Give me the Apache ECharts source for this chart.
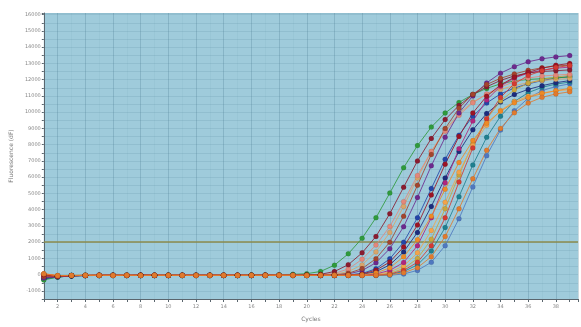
<!DOCTYPE html>
<html>
<head>
<meta charset="utf-8">
<script src="https://cdn.jsdelivr.net/npm/echarts@6/dist/echarts.min.js"></script>
<style>html,body{margin:0;padding:0;background:#fff;}#c{width:581px;height:327px;}</style>
</head>
<body>
<div id="c"></div>
<script>
const cycles = [1,2,3,4,5,6,7,8,9,10,11,12,13,14,15,16,17,18,19,20,21,22,23,24,25,26,27,28,29,30,31,32,33,34,35,36,37,38,39];
const yTickLabels = [-1000,0,1000,2000,3000,4000,5000,6000,7000,8000,9000,10000,11000,12000,13000,14000,15000,16000];
const xTickLabels = [2,4,6,8,10,12,14,16,18,20,22,24,26,28,30,32,34,36,38];
const threshold = 2000;

const wellGreen = [-330,-150,-70,-50,-40,-50,-40,-40,-50,-40,-40,-40,-50,-40,-40,-30,-20,0,16,58,194,580,1280,2240,3500,5020,6580,7940,9080,9940,10600,11080,11460,11740,11920,12010,12060,12110,12160];
const wellMaroon = [-20,-90,-60,-50,-50,-40,-50,-40,-40,-50,-40,-50,-40,-40,-50,-40,-40,-40,-40,-20,20,190,610,1340,2350,3750,5380,6990,8380,9540,10410,11080,11560,11950,12230,12410,12500,12550,12600];
const wellSalmon = [40,-80,-60,-50,-40,-50,-40,-50,-40,-40,-50,-40,-40,-50,-40,-40,-50,-40,-40,-40,-10,70,350,940,1820,2960,4490,6100,7570,8830,9810,10570,11120,11550,11870,12100,12220,12280,12330];
const wellTan = [-60,-100,-60,-40,-50,-40,-40,-50,-40,-50,-40,-40,-50,-40,-40,-50,-40,-40,-50,-40,-30,20,190,600,1400,2600,4200,5950,7580,8910,9920,10620,11090,11400,11630,11810,11940,12020,12070];
const wellBrown = [-120,-110,-70,-50,-40,-50,-50,-40,-40,-50,-50,-40,-40,-50,-40,-50,-40,-40,-40,-50,-40,-10,80,370,980,2000,3600,5500,7400,8990,10240,11100,11700,12080,12350,12570,12730,12840,12890];
const wellPurple = [-200,-130,-70,-60,-50,-40,-50,-50,-40,-40,-50,-40,-50,-40,-40,-40,-50,-40,-40,-50,-50,-20,40,250,730,1600,2950,4750,6700,8450,9950,11000,11800,12400,12800,13100,13280,13400,13480];
const wellBlue = [-150,-120,-60,-50,-50,-40,-40,-50,-40,-40,-40,-50,-40,-40,-50,-40,-40,-50,-40,-40,-50,-40,-20,70,360,970,2000,3500,5300,7100,8580,9750,10560,11120,11480,11740,11940,12090,12190];
const wellDarkRed = [0,-70,-60,-50,-40,-40,-50,-40,-50,-40,-40,-50,-40,-50,-40,-40,-40,-50,-40,-40,-40,-50,-20,40,270,780,1700,3050,4900,6800,8500,9950,10980,11670,12150,12450,12700,12880,13000];
const wellNavy = [-250,-140,-80,-50,-50,-40,-40,-40,-50,-40,-50,-40,-40,-40,-50,-40,-50,-40,-40,-40,-50,-40,-40,10,180,600,1400,2600,4200,5950,7580,8910,9920,10620,11090,11400,11630,11810,11940];
const wellOrange = [60,-60,-50,-40,-50,-40,-40,-50,-40,-40,-50,-40,-50,-40,-40,-40,-50,-40,-40,-50,-40,-40,-40,-10,100,420,1100,2150,3600,5250,6900,8250,9320,10060,10570,10900,11140,11320,11460];
const wellMagenta = [-180,-120,-70,-50,-40,-50,-40,-40,-40,-50,-40,-40,-50,-40,-40,-50,-40,-40,-40,-50,-40,-40,-50,-40,40,260,750,1780,3500,5650,7750,9450,10750,11600,12100,12400,12580,12700,12770];
const wellLightOrange = [30,-70,-50,-50,-40,-40,-50,-40,-40,-50,-40,-50,-40,-40,-50,-40,-40,-40,-50,-40,-40,-50,-40,-40,10,160,530,1340,2720,4450,6300,7950,9200,10100,10660,10980,11180,11310,11380];
const wellGold = [-40,-90,-60,-50,-50,-40,-40,-40,-50,-40,-40,-40,-50,-40,-50,-40,-40,-50,-40,-40,-40,-50,-40,-40,-20,80,370,990,2180,4050,6130,8060,9580,10680,11370,11770,12010,12160,12260];
const wellRed = [20,-80,-60,-50,-40,-50,-40,-40,-40,-50,-40,-50,-40,-40,-40,-50,-40,-40,-50,-40,-40,-40,-50,-40,-40,40,260,760,1780,3500,5700,7800,9600,10900,11750,12250,12550,12750,12870];
const wellTeal = [-280,-150,-80,-60,-50,-40,-50,-40,-40,-40,-50,-40,-40,-50,-40,-40,-40,-50,-40,-40,-50,-40,-40,-40,-40,10,190,600,1450,2900,4800,6750,8450,9750,10650,11200,11525,11725,11850];
const wellOrange2 = [50,-60,-50,-40,-40,-50,-40,-50,-40,-40,-40,-50,-40,-40,-50,-40,-40,-40,-40,-50,-40,-40,-40,-50,-40,-10,110,430,1100,2340,4050,5900,7650,9000,9960,10560,10910,11120,11250];
const wellSteel = [-220,-130,-70,-50,-50,-40,-40,-50,-40,-40,-50,-40,-50,-40,-40,-40,-50,-40,-40,-40,-50,-40,-40,-40,-50,-40,40,260,760,1780,3440,5400,7320,8900,10080,10860,11320,11580,11740];

const wells = [
  ['Steel', wellSteel, '#4f78c0'],
  ['Teal', wellTeal, '#1f7f8f'],
  ['Navy', wellNavy, '#1c2c7c'],
  ['Blue', wellBlue, '#2446a8'],
  ['Green', wellGreen, '#2f9a3c'],
  ['Tan', wellTan, '#d9a56a'],
  ['Gold', wellGold, '#c9a53c'],
  ['Salmon', wellSalmon, '#e3877a'],
  ['LightOrange', wellLightOrange, '#f2a34a'],
  ['Magenta', wellMagenta, '#b0267e'],
  ['Purple', wellPurple, '#6c2a8e'],
  ['Maroon', wellMaroon, '#8a1c30'],
  ['Brown', wellBrown, '#a3452e'],
  ['DarkRed', wellDarkRed, '#9c1424'],
  ['Red', wellRed, '#d33a32'],
  ['Orange', wellOrange, '#ee8a26'],
  ['Orange2', wellOrange2, '#e07a2e']
];

const series = wells.map(function (w, i) {
  const s = {
    name: w[0],
    type: 'line',
    data: cycles.map(function (c, j) { return [c, w[1][j]]; }),
    symbol: 'circle',
    symbolSize: 5,
    showSymbol: true,
    lineStyle: { width: 1, color: w[2], opacity: 0.85 },
    itemStyle: { color: w[2], borderColor: 'rgba(0,0,0,0.15)', borderWidth: 0.5 },
    emphasis: { disabled: true },
    z: 3
  };
  if (i === 0) {
    s.markLine = {
      silent: true,
      symbol: ['none', 'none'],
      label: { show: false },
      lineStyle: { color: '#8d8b4c', width: 1.5, type: 'solid' },
      data: [{ yAxis: threshold }],
      z: 2
    };
  }
  return s;
});

const chart = echarts.init(document.getElementById('c'), null, { renderer: 'canvas' });
chart.setOption({
  animation: false,
  backgroundColor: '#ffffff',
  grid: { left: 41, right: 0, top: 13, bottom: 23, show: true, backgroundColor: '#9fcbdb', borderWidth: 0 },
  xAxis: {
    type: 'value', min: 1, max: 39.6, interval: 1,
    name: 'Cycles', nameLocation: 'middle', nameGap: 17,
    nameTextStyle: { fontSize: 6, color: '#777', fontFamily: 'DejaVu Sans' },
    axisLine: { show: true, onZero: false, lineStyle: { color: '#5a666e', width: 1 } },
    axisTick: { show: true, length: 3, lineStyle: { color: '#5a666e' } },
    axisLabel: {
      fontSize: 5, color: '#888', margin: 5, fontFamily: 'DejaVu Sans',
      formatter: function (v) { return xTickLabels.indexOf(v) >= 0 ? String(v) : ''; }
    },
    splitLine: { show: true, lineStyle: { color: ['rgba(90,140,160,0.08)', 'rgba(80,130,150,0.3)'], width: 1 } }
  },
  yAxis: {
    type: 'value', min: -1500, max: 16100, interval: 500,
    name: 'Fluorescence (dF)', nameLocation: 'middle', nameGap: 28, nameRotate: 90,
    nameTextStyle: { fontSize: 6, color: '#777', fontFamily: 'DejaVu Sans' },
    axisLine: { show: true, lineStyle: { color: '#5a666e', width: 1 } },
    axisTick: { show: true, length: 2, lineStyle: { color: '#5a666e' } },
    axisLabel: {
      fontSize: 5, color: '#888', margin: 3, fontFamily: 'DejaVu Sans',
      formatter: function (v) { return yTickLabels.indexOf(v) >= 0 ? String(v) : ''; }
    },
    splitLine: { show: true, lineStyle: { color: 'rgba(90,140,160,0.2)', width: 1 } }
  },
  series: series
});
</script>
</body>
</html>
